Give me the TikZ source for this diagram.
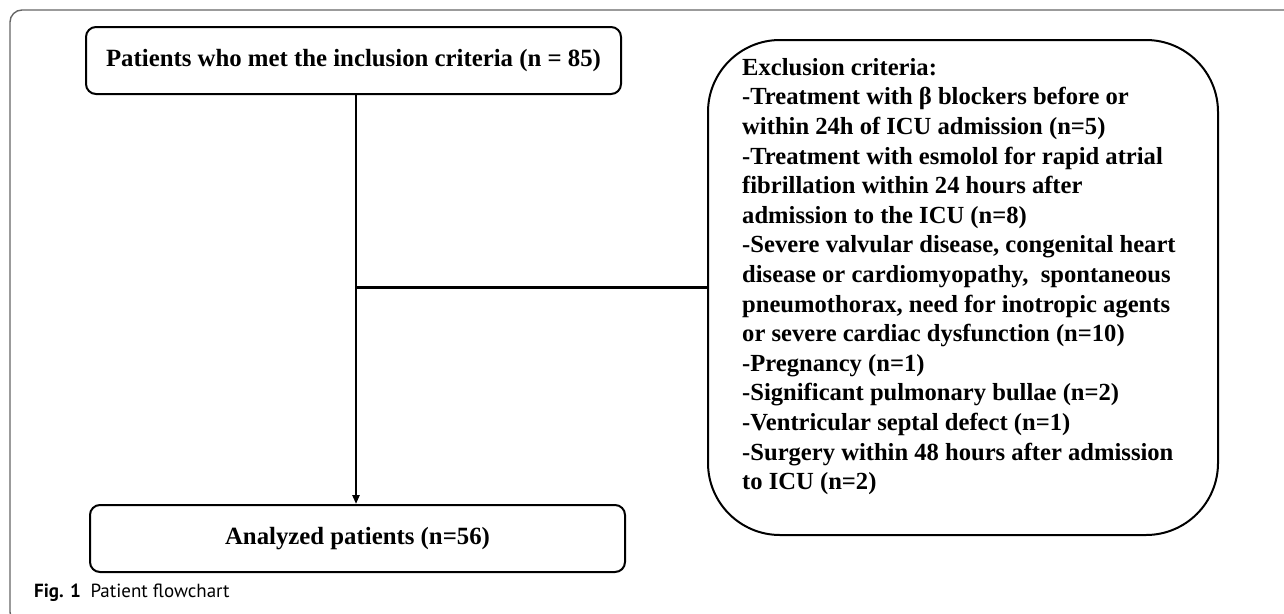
\documentclass[tikz,border=0pt]{standalone}
\usepackage{fontspec}
\setmainfont{Liberation Serif}
\newfontfamily\capfont{PT Sans}
\usetikzlibrary{arrows.meta,positioning}
\tikzset{
  flowbox/.style={draw, line width=2pt, rounded corners=10pt, font=\fontsize{24.8}{28}\selectfont\bfseries},
  exclbox/.style={draw, line width=2pt, rounded corners=72pt},
  excltext/.style={align=left, inner sep=0pt, font=\fontsize{24.6}{29.6}\selectfont\bfseries},
  link/.style={line width=2.2pt},
}
\begin{document}
\begin{tikzpicture}[x=1pt,y=-1pt]
  \useasboundingbox (0,0) rectangle (1284,613);
  % outer frame
  \draw[black!60, line width=1.4pt, rounded corners=12pt] (1300,10) -- (10,10) -- (10,624) -- (1300,624);
  % boxes
  \node[flowbox, minimum width=535pt, minimum height=67pt] (incl) at (353.5,60.5) {Patients who met the inclusion criteria (n = 85)};
  \node[flowbox, minimum width=535pt, minimum height=67pt] (anal) at (357.5,538.5) {Analyzed patients (n=56)};
  \node[exclbox, minimum width=510pt, minimum height=495pt] (excl) at (963,287.5) {};
  \node[excltext, anchor=north west] (excltxt) at ([xshift=35pt,yshift=-19pt]excl.north west) {%
    Exclusion criteria:\\
    -Treatment with β blockers before or\\
    within 24h of ICU admission (n=5)\\
    -Treatment with esmolol for rapid atrial\\
    fibrillation within 24 hours after\\
    admission to the ICU (n=8)\\
    -Severe valvular disease, congenital heart\\
    disease or cardiomyopathy,\ \ spontaneous\\
    pneumothorax, need for inotropic agents\\
    or severe cardiac dysfunction (n=10)\\
    -Pregnancy (n=1)\\
    -Significant pulmonary bullae (n=2)\\
    -Ventricular septal defect (n=1)\\
    -Surgery within 48 hours after admission\\
    to ICU (n=2)};
  % connectors
  \coordinate (split) at ([xshift=2.5pt]incl.south |- excl.west);
  \draw[link, -{Triangle[length=9pt,width=7pt]}] ([xshift=2.5pt]incl.south) -- ([xshift=2.5pt]incl.south |- anal.north);
  \draw[link] (split) -- (excl.west);
  % caption
  \node[anchor=west, inner sep=0pt, font=\capfont\fontsize{19}{22}\selectfont] (cap) at (34,593) {\textbf{Fig. 1}\enspace Patient flowchart};
\end{tikzpicture}
\end{document}
